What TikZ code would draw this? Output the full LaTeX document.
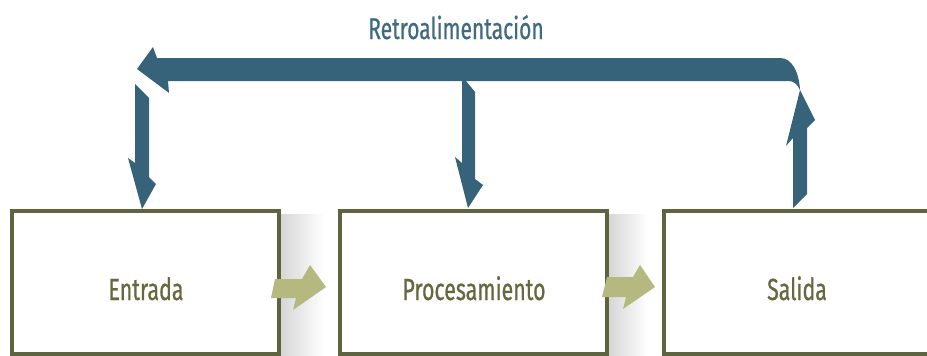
\documentclass[tikz,border=0pt]{standalone}
\usepackage{fontspec}
\newfontfamily\labfont[FakeStretch=0.7, UprightFeatures={FakeBold=0.6}]{Fira Sans}
\definecolor{fbblue}{HTML}{36637A}
\definecolor{boxolive}{HTML}{5E6440}
\definecolor{txtolive}{HTML}{66683F}
\definecolor{arrgreen}{HTML}{B5B97F}
\definecolor{ttlblue}{HTML}{3F6A80}
\tikzset{
  box/.style={draw=boxolive, line width=4pt, fill=white, rectangle, inner sep=0pt},
  boxtext/.style={text=txtolive, font=\labfont\fontsize{30.5}{34}\selectfont, inner sep=0pt},
  fbarrow/.style={fill=fbblue, draw=none},
  flowarrow/.style={fill=arrgreen, draw=none},
  shadowband/.style={left color=black!16, right color=white, draw=none},
}
\begin{document}
\begin{tikzpicture}[x=1pt,y=-1pt]
\useasboundingbox (0,0) rectangle (927,356);
\clip (0,0) rectangle (927,356);
% shadows
\shade[shadowband] (281,214) rectangle (324,356);
\shade[shadowband] (609,214) rectangle (648,356);
% boxes
\node[box, minimum width=267pt, minimum height=143pt] (in) at (145.5,282.5) {};
\node[box, minimum width=267pt, minimum height=143pt] (pr) at (473.5,282.5) {};
\node[box, minimum width=275pt, minimum height=143pt] (out) at (801.5,282.5) {};
\node[boxtext, anchor=base] (inT) at (146,300) {Entrada};
\node[boxtext, anchor=base] (prT) at (474,300) {Procesamiento};
\node[boxtext, anchor=base] (outT) at (797,300) {Salida};
% title
\node[text=ttlblue, font=\labfont\fontsize{30}{33}\selectfont, inner sep=0pt, anchor=base] (fb) at (456,39) {Retroalimentación};
% coordinates
\coordinate (tipL) at (142,209);
\coordinate (tipM) at (468,208);
\coordinate (tipR) at (800,90);
% feedback main bar with left head and rounded right end
\fill[fbarrow] (137,69) -- (153,47) -- (157,58) -- (780,58)
  .. controls (792,58) and (799,72) .. (tipR)
  .. controls (797,84) and (794,81) .. (788,81)
  -- (168,81) -- (169,93) -- cycle;
% left down arrow
\fill[fbarrow] (135,84) -- (149,98) -- (149,177) -- (156,184) -- (tipL)
  -- (128,158) -- (135,163) -- cycle;
% middle down arrow
\fill[fbarrow] (462,81) -- (466,81) -- (475,92) -- (475,179) -- (483,185) -- (tipM)
  -- (455,157) -- (462,163) -- cycle;
% right up arrow
\fill[fbarrow] (793,208) -- (807,194) -- (807,128) -- (815,120) -- (tipR)
  -- (786,146) -- (793,138) -- cycle;
% flow arrows
\fill[flowarrow] (275,279) -- (302,279) -- (310,265) -- (326,287) -- (293,310) -- (296,298) -- (271,298) -- cycle;
\fill[flowarrow] (607,277) -- (633,277) -- (640,265) -- (655,287) -- (623,309) -- (626,297) -- (602,297) -- cycle;
\end{tikzpicture}
\end{document}
